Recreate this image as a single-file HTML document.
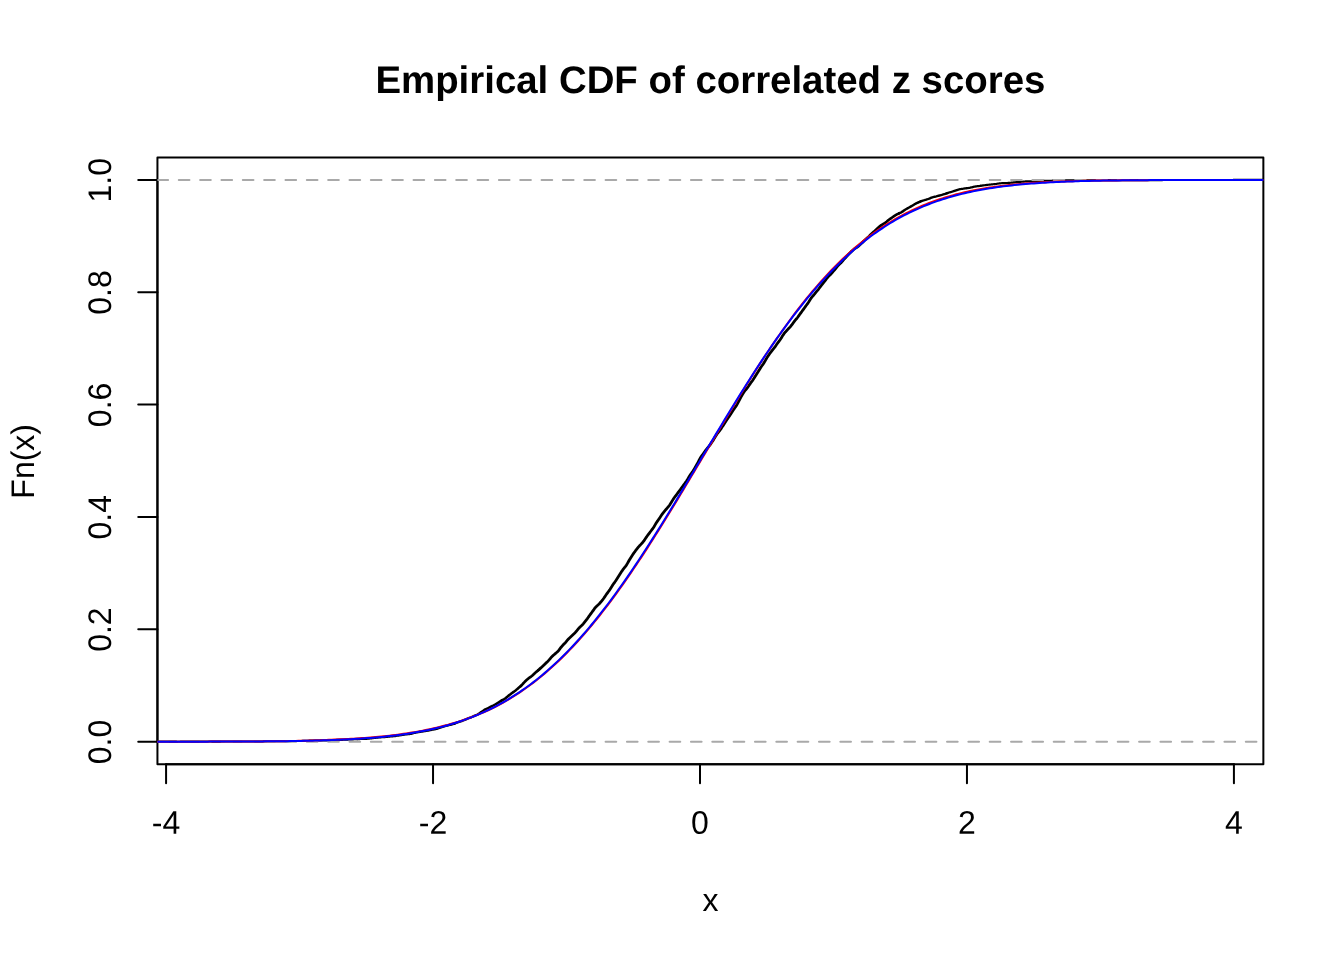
<!DOCTYPE html>
<html><head><meta charset="utf-8"><title>Empirical CDF of correlated z scores</title>
<style>
html,body{margin:0;padding:0;background:#fff;overflow:hidden;}
svg{display:block;}
text{font-family:"Liberation Sans",Arial,Helvetica,sans-serif;fill:#000;text-rendering:geometricPrecision;}
</style></head><body>
<svg width="1344" height="960" viewBox="0 0 1344 960">
<rect width="1344" height="960" fill="#fff"/>
<defs><clipPath id="c"><rect x="157.44" y="157.44" width="1105.9199999999998" height="606.72"/></clipPath></defs>
<g fill="none" stroke="#000" stroke-width="2" stroke-linecap="round" stroke-linejoin="round">
<rect x="157.44" y="157.44" width="1105.9199999999998" height="606.72"/>
<line x1="166.08" y1="764.16" x2="1233.92" y2="764.16"/>
<line x1="157.44" y1="741.69" x2="157.44" y2="179.91"/>
<line x1="166.08" y1="764.16" x2="166.08" y2="783.36"/><line x1="433.04" y1="764.16" x2="433.04" y2="783.36"/><line x1="700.00" y1="764.16" x2="700.00" y2="783.36"/><line x1="966.96" y1="764.16" x2="966.96" y2="783.36"/><line x1="1233.92" y1="764.16" x2="1233.92" y2="783.36"/>
<line x1="157.44" y1="741.69" x2="138.24" y2="741.69"/><line x1="157.44" y1="629.33" x2="138.24" y2="629.33"/><line x1="157.44" y1="516.98" x2="138.24" y2="516.98"/><line x1="157.44" y1="404.62" x2="138.24" y2="404.62"/><line x1="157.44" y1="292.27" x2="138.24" y2="292.27"/><line x1="157.44" y1="179.91" x2="138.24" y2="179.91"/>
</g>
<g clip-path="url(#c)" fill="none" stroke-linejoin="round" stroke-linecap="round">
<g stroke="#000"><path d="M157.44 741.67 L158.23 741.67 L159.02 741.67 L159.81 741.67 L160.60 741.67 L161.39 741.67 L162.18 741.67 L162.97 741.67 L163.76 741.66 L164.55 741.66 L165.34 741.66 L166.13 741.66 L166.92 741.67 L167.71 741.67 L168.50 741.67 L169.29 741.67 L170.08 741.66 L170.87 741.66 L171.66 741.66 L172.45 741.67 L173.24 741.67 L174.03 741.67 L174.82 741.67 L175.61 741.67 L176.40 741.67 L177.19 741.68 L177.98 741.68 L178.77 741.68 L179.56 741.68 L180.35 741.67 L181.14 741.67 L181.93 741.66 L182.72 741.66 L183.51 741.66 L184.30 741.66 L185.09 741.66 L185.88 741.66 L186.67 741.65 L187.46 741.65 L188.25 741.65 L189.04 741.65 L189.83 741.65 L190.62 741.65 L191.41 741.65 L192.20 741.65 L192.99 741.65 L193.78 741.66 L194.57 741.66 L195.36 741.65 L196.15 741.65 L196.94 741.64 L197.73 741.64 L198.52 741.63 L199.31 741.63 L200.10 741.63 L200.89 741.63 L201.68 741.63 L202.47 741.63 L203.26 741.62 L204.05 741.62 L204.84 741.62 L205.63 741.62 L206.42 741.62 L207.21 741.62 L208.00 741.61 L208.79 741.61 L209.58 741.61 L210.37 741.61 L211.16 741.62 L211.95 741.62 L212.74 741.62 L213.53 741.62 L214.32 741.62 L215.11 741.62 L215.90 741.62 L216.69 741.63 L217.48 741.63 L218.27 741.63 L219.06 741.63 L219.85 741.63 L220.64 741.63 L221.43 741.62 L222.22 741.62 L223.01 741.61 L223.80 741.60 L224.59 741.58 L225.38 741.57 L226.17 741.57 L226.95 741.56 L227.74 741.56 L228.53 741.56 L229.32 741.56 L230.11 741.55 L230.90 741.55 L231.69 741.55 L232.48 741.55 L233.27 741.55 L234.06 741.55 L234.85 741.54 L235.64 741.54 L236.43 741.54 L237.22 741.54 L238.01 741.53 L238.80 741.53 L239.59 741.53 L240.38 741.52 L241.17 741.51 L241.96 741.51 L242.75 741.50 L243.54 741.51 L244.33 741.51 L245.12 741.51 L245.91 741.51 L246.70 741.51 L247.49 741.50 L248.28 741.49 L249.07 741.49 L249.86 741.48 L250.65 741.47 L251.44 741.46 L252.23 741.46 L253.02 741.45 L253.81 741.46 L254.60 741.46 L255.39 741.47 L256.18 741.47 L256.97 741.47 L257.76 741.46 L258.55 741.46 L259.34 741.45 L260.13 741.45 L260.92 741.45 L261.71 741.45 L262.50 741.44 L263.29 741.42 L264.08 741.40 L264.87 741.38 L265.66 741.36 L266.45 741.34 L267.24 741.32 L268.03 741.30 L268.82 741.29 L269.61 741.28 L270.40 741.28 L271.19 741.28 L271.98 741.28 L272.77 741.28 L273.56 741.27 L274.35 741.26 L275.14 741.25 L275.93 741.24 L276.72 741.23 L277.51 741.23 L278.30 741.23 L279.09 741.23 L279.88 741.22 L280.67 741.22 L281.46 741.22 L282.25 741.22 L283.04 741.21 L283.83 741.21 L284.62 741.20 L285.41 741.19 L286.20 741.18 L286.99 741.18 L287.78 741.17 L288.57 741.17 L289.36 741.15 L290.15 741.13 L290.94 741.10 L291.73 741.07 L292.52 741.04 L293.31 741.02 L294.10 741.00 L294.89 740.99 L295.68 740.98 L296.47 740.98 L297.26 740.97 L298.05 740.97 L298.84 740.97 L299.63 740.97 L300.42 740.95 L301.21 740.93 L302.00 740.91 L302.79 740.88 L303.58 740.86 L304.37 740.84 L305.16 740.82 L305.95 740.80 L306.74 740.77 L307.53 740.73 L308.32 740.70 L309.11 740.67 L309.90 740.64 L310.69 740.62 L311.48 740.61 L312.27 740.59 L313.06 740.58 L313.85 740.57 L314.64 740.56 L315.43 740.56 L316.22 740.55 L317.01 740.53 L317.80 740.50 L318.59 740.47 L319.38 740.44 L320.17 740.42 L320.96 740.42 L321.75 740.42 L322.54 740.43 L323.33 740.42 L324.12 740.42 L324.91 740.41 L325.70 740.40 L326.49 740.38 L327.28 740.37 L328.07 740.34 L328.86 740.31 L329.65 740.27 L330.44 740.24 L331.23 740.20 L332.02 740.17 L332.81 740.13 L333.60 740.09 L334.39 740.03 L335.18 739.98 L335.97 739.93 L336.76 739.90 L337.55 739.88 L338.34 739.88 L339.13 739.88 L339.92 739.88 L340.71 739.87 L341.50 739.85 L342.29 739.84 L343.08 739.81 L343.87 739.78 L344.66 739.74 L345.45 739.70 L346.24 739.65 L347.03 739.61 L347.82 739.58 L348.61 739.56 L349.40 739.54 L350.19 739.51 L350.98 739.47 L351.77 739.43 L352.56 739.38 L353.35 739.34 L354.14 739.32 L354.93 739.29 L355.72 739.27 L356.51 739.23 L357.30 739.20" stroke-width="2.1"/><path d="M357.30 739.20 L358.09 739.15 L358.88 739.11 L359.67 739.07 L360.46 739.02 L361.25 738.97 L362.04 738.91 L362.83 738.86 L363.62 738.83 L364.41 738.81 L365.19 738.81 L365.98 738.81 L366.77 738.79 L367.56 738.74 L368.35 738.68 L369.14 738.60 L369.93 738.51 L370.72 738.43 L371.51 738.34 L372.30 738.24 L373.09 738.14 L373.88 738.03 L374.67 737.93 L375.46 737.84 L376.25 737.76 L377.04 737.67 L377.83 737.58 L378.62 737.49 L379.41 737.40 L380.20 737.33 L380.99 737.28 L381.78 737.26 L382.57 737.23 L383.36 737.19 L384.15 737.13 L384.94 737.05 L385.73 736.96 L386.52 736.88 L387.31 736.79 L388.10 736.71 L388.89 736.63 L389.68 736.55 L390.47 736.47 L391.26 736.41 L392.05 736.36 L392.84 736.31 L393.63 736.25 L394.42 736.16 L395.21 736.05 L396.00 735.91 L396.79 735.78 L397.58 735.66 L398.37 735.55 L399.16 735.45 L399.95 735.33 L400.74 735.21 L401.53 735.07 L402.32 734.94 L403.11 734.81 L403.90 734.70 L404.69 734.60 L405.48 734.49 L406.27 734.39 L407.06 734.29 L407.85 734.21 L408.64 734.13 L409.43 734.06 L410.22 733.96 L411.01 733.82 L411.80 733.64 L412.59 733.43 L413.38 733.22 L414.17 733.02 L414.96 732.84 L415.75 732.68 L416.54 732.53 L417.33 732.37 L418.12 732.21 L418.91 732.07 L419.70 731.94" stroke-width="2.2"/><path d="M419.70 731.94 L420.49 731.81 L421.28 731.69 L422.07 731.55 L422.86 731.40 L423.65 731.26 L424.44 731.13 L425.23 731.03 L426.02 730.93 L426.81 730.83 L427.60 730.69 L428.39 730.53 L429.18 730.34 L429.97 730.16 L430.76 730.00 L431.55 729.86 L432.34 729.73 L433.13 729.60 L433.92 729.46 L434.71 729.31 L435.50 729.15 L436.29 728.97 L437.08 728.77 L437.87 728.54 L438.66 728.26 L439.45 727.96 L440.24 727.64 L441.03 727.35 L441.82 727.09 L442.61 726.87 L443.40 726.66 L444.19 726.44 L444.98 726.20 L445.77 725.96 L446.56 725.74 L447.35 725.53 L448.14 725.34 L448.93 725.17 L449.72 724.98 L450.51 724.78 L451.30 724.57 L452.09 724.36 L452.88 724.14 L453.67 723.91 L454.46 723.64" stroke-width="2.3"/><path d="M454.46 723.64 L455.25 723.33 L456.04 722.98 L456.83 722.63 L457.62 722.31 L458.41 722.03 L459.20 721.79 L459.99 721.56 L460.78 721.33 L461.57 721.06 L462.36 720.76 L463.15 720.46 L463.94 720.15 L464.73 719.84 L465.52 719.52 L466.31 719.18 L467.10 718.83 L467.89 718.49 L468.68 718.18 L469.47 717.89 L470.26 717.61 L471.05 717.32 L471.84 716.98 L472.63 716.62 L473.42 716.24 L474.21 715.87 L475.00 715.53 L475.79 715.22 L476.58 714.89 L477.37 714.53 L478.16 714.11 L478.95 713.64 L479.74 713.15 L480.53 712.63" stroke-width="2.4"/><path d="M480.53 712.63 L481.32 712.10 L482.11 711.55 L482.90 710.99 L483.69 710.43 L484.48 709.91 L485.27 709.45 L486.06 709.06 L486.85 708.71 L487.64 708.36 L488.43 707.98 L489.22 707.57 L490.01 707.14 L490.80 706.71 L491.59 706.32 L492.38 705.94 L493.17 705.57 L493.96 705.17 L494.75 704.73 L495.54 704.28 L496.33 703.82 L497.12 703.36 L497.91 702.89 L498.70 702.40 L499.49 701.88 L500.28 701.35 L501.07 700.84 L501.86 700.37" stroke-width="2.5"/><path d="M501.86 700.37 L502.65 699.94 L503.43 699.52 L504.22 699.08 L505.01 698.56 L505.80 697.97 L506.59 697.33 L507.38 696.66 L508.17 696.02 L508.96 695.39 L509.75 694.78 L510.54 694.16 L511.33 693.55 L512.12 692.96 L512.91 692.39 L513.70 691.85 L514.49 691.30 L515.28 690.72 L516.07 690.08 L516.86 689.39 L517.65 688.68 L518.44 687.99 L519.23 687.32 L520.02 686.66 L520.81 685.97" stroke-width="2.6"/><path d="M520.81 685.97 L521.60 685.21 L522.39 684.38 L523.18 683.51 L523.97 682.65 L524.76 681.82 L525.55 681.05 L526.34 680.31 L527.13 679.60 L527.92 678.91 L528.71 678.27 L529.50 677.67 L530.29 677.11 L531.08 676.55 L531.87 675.94 L532.66 675.25 L533.45 674.50 L534.24 673.73 L535.03 672.98 L535.82 672.29 L536.61 671.64 L537.40 670.99 L538.19 670.32" stroke-width="2.7"/><path d="M538.19 670.32 L538.98 669.60 L539.77 668.87 L540.56 668.13 L541.35 667.41 L542.14 666.69 L542.93 665.96 L543.72 665.20 L544.51 664.42 L545.30 663.64 L546.09 662.89 L546.88 662.16 L547.67 661.41 L548.46 660.61 L549.25 659.72 L550.04 658.78 L550.83 657.83 L551.62 656.93 L552.41 656.13 L553.20 655.42 L553.99 654.76 L554.78 654.11 L555.57 653.44 L556.36 652.76 L557.15 652.06 L557.94 651.35 L558.73 650.60 L559.52 649.36 L560.31 648.18 L561.10 647.24 L561.89 646.31 L562.68 645.42 L563.47 644.59 L564.26 643.78 L565.05 642.95 L565.84 642.06 L566.63 641.12 L567.42 640.18 L568.21 639.28 L569.00 638.47 L569.79 637.73 L570.58 637.02 L571.37 636.30 L572.16 635.56 L572.95 634.80 L573.74 634.03 L574.53 633.25 L575.32 632.43 L576.11 631.55 L576.90 630.60 L577.69 629.62 L578.48 628.67 L579.27 627.80 L580.06 627.01 L580.85 626.28 L581.64 625.53 L582.43 624.71 L583.22 623.80 L584.01 622.83 L584.80 621.83 L585.59 620.84 L586.38 619.84 L587.17 618.81 L587.96 617.73 L588.75 616.62 L589.54 615.50 L590.33 614.40 L591.12 613.34 L591.91 612.28 L592.70 611.19 L593.49 610.08 L594.28 608.97 L595.07 607.93 L595.86 607.02 L596.65 606.23 L597.44 605.52 L598.23 604.82 L599.02 604.06 L599.81 603.21 L600.60 602.28 L601.39 601.31 L602.18 600.32 L602.97 599.30 L603.76 598.23 L604.55 597.09 L605.34 595.93 L606.13 594.77 L606.92 593.67 L607.71 592.60 L608.50 591.53 L609.29 590.41 L610.08 589.20 L610.87 587.92 L611.66 586.64 L612.45 585.41 L613.24 584.27 L614.03 583.17 L614.82 582.08 L615.61 580.93 L616.40 579.73 L617.19 578.48 L617.98 577.22 L618.77 575.98 L619.56 574.75 L620.35 573.53 L621.14 572.30 L621.93 571.10 L622.72 569.97 L623.51 568.93 L624.30 567.95 L625.09 566.97 L625.88 565.89 L626.67 564.69 L627.46 563.35 L628.25 561.95 L629.04 560.57 L629.83 559.25 L630.62 557.99 L631.41 556.76 L632.20 555.54 L632.99 554.32 L633.78 553.15 L634.57 552.04 L635.36 550.99 L636.15 549.99 L636.94 548.99 L637.73 547.98 L638.52 546.97 L639.31 546.03 L640.10 545.17 L640.89 544.38 L641.67 543.60 L642.46 542.73 L643.25 541.73 L644.04 540.61 L644.83 539.42 L645.62 538.23 L646.41 537.10 L647.20 536.02 L647.99 534.96 L648.78 533.90 L649.57 532.84 L650.36 531.78 L651.15 530.75 L651.94 529.72 L652.73 528.65 L653.52 527.48 L654.31 526.20 L655.10 524.86 L655.89 523.53 L656.68 522.27 L657.47 521.10 L658.26 519.99 L659.05 518.87 L659.84 517.70 L660.63 516.48 L661.42 515.26 L662.21 514.11 L663.00 513.05 L663.79 512.06 L664.58 511.11 L665.37 510.18 L666.16 509.25 L666.95 508.33 L667.74 507.42 L668.53 506.50 L669.32 505.50 L670.11 504.37 L670.90 503.10 L671.69 501.74 L672.48 500.39 L673.27 499.13 L674.06 497.98 L674.85 496.93 L675.64 495.91 L676.43 494.86 L677.22 493.77 L678.01 492.67 L678.80 491.60 L679.59 490.56 L680.38 489.52 L681.17 488.46 L681.96 487.36 L682.75 486.23 L683.54 485.11 L684.33 484.04 L685.12 482.99 L685.91 481.91 L686.70 480.73 L687.49 479.44 L688.28 478.08 L689.07 476.73 L689.86 475.46 L690.65 474.30 L691.44 473.21 L692.23 472.11 L693.02 470.96 L693.81 469.72 L694.60 468.42 L695.39 467.08 L696.18 465.70 L696.97 464.28 L697.76 462.80 L698.55 461.27 L699.34 459.76 L700.13 458.34 L700.92 457.06 L701.71 455.92 L702.50 454.85 L703.29 453.77 L704.08 452.66 L704.87 451.50 L705.66 450.37 L706.45 449.30 L707.24 448.32 L708.03 447.38 L708.82 446.43 L709.61 445.42 L710.40 444.34 L711.19 443.21 L711.98 442.05 L712.77 440.87 L713.56 439.64 L714.35 438.34 L715.14 436.99 L715.93 435.66 L716.72 434.41 L717.51 433.29 L718.30 432.30 L719.09 431.36 L719.88 430.37 L720.67 429.29 L721.46 428.11 L722.25 426.87 L723.04 425.63 L723.83 424.42 L724.62 423.23 L725.41 422.02 L726.20 420.80 L726.99 419.56 L727.78 418.36 L728.57 417.21 L729.36 416.10 L730.15 414.98 L730.94 413.80 L731.73 412.56 L732.52 411.28 L733.31 410.03 L734.10 408.85 L734.89 407.74 L735.68 406.63 L736.47 405.43 L737.26 404.11 L738.05 402.66 L738.84 401.14 L739.63 399.60 L740.42 398.11 L741.21 396.66 L742.00 395.25 L742.79 393.90 L743.58 392.63 L744.37 391.48 L745.16 390.45 L745.95 389.50 L746.74 388.56 L747.53 387.55 L748.32 386.45 L749.11 385.28 L749.90 384.11 L750.69 382.98 L751.48 381.91 L752.27 380.86 L753.06 379.76 L753.85 378.57 L754.64 377.31 L755.43 376.01 L756.22 374.72 L757.01 373.45 L757.80 372.19 L758.59 370.93 L759.38 369.65 L760.17 368.39 L760.96 367.19 L761.75 366.06 L762.54 364.96 L763.33 363.84 L764.12 362.62 L764.91 361.28 L765.70 359.87 L766.49 358.47 L767.28 357.15 L768.07 355.94 L768.86 354.82 L769.65 353.75 L770.44 352.69 L771.23 351.65 L772.02 350.63 L772.81 349.64 L773.60 348.67 L774.39 347.68 L775.18 346.62 L775.97 345.49 L776.76 344.33 L777.55 343.19 L778.34 342.11 L779.13 341.06 L779.91 340.00 L780.70 338.86 L781.49 337.64 L782.28 336.36 L783.07 335.11 L783.86 333.94 L784.65 332.90 L785.44 331.95 L786.23 331.06 L787.02 330.20 L787.81 329.35 L788.60 328.52 L789.39 327.71 L790.18 326.88 L790.97 325.98 L791.76 324.99 L792.55 323.90 L793.34 322.77 L794.13 321.67 L794.92 320.64 L795.71 319.68 L796.50 318.75 L797.29 317.77 L798.08 316.72 L798.87 315.60 L799.66 314.47 L800.45 313.37 L801.24 312.30 L802.03 311.24 L802.82 310.17 L803.61 309.07 L804.40 307.96 L805.19 306.86 L805.98 305.78 L806.77 304.71 L807.56 303.62 L808.35 302.46 L809.14 301.22 L809.93 299.96 L810.72 298.76 L811.51 297.67 L812.30 296.69 L813.09 295.79 L813.88 294.88 L814.67 293.95 L815.46 292.96 L816.25 291.97 L817.04 290.98 L817.83 290.01 L818.62 289.02 L819.41 287.98 L820.20 286.90 L820.99 285.82 L821.78 284.77 L822.57 283.77 L823.36 282.81 L824.15 281.85 L824.94 280.85 L825.73 279.80 L826.52 278.75 L827.31 277.76 L828.10 276.85 L828.89 276.04 L829.68 275.27 L830.47 274.49 L831.26 273.66 L832.05 272.78 L832.84 271.86 L833.63 270.94 L834.42 270.00 L835.21 269.05 L836.00 268.08 L836.79 267.09 L837.58 266.14 L838.37 265.25 L839.16 264.45 L839.95 263.72 L840.74 262.98 L841.53 262.18 L842.32 261.31 L843.11 260.39 L843.90 259.45 L844.69 258.55 L845.48 257.69 L846.27 256.85 L847.06 256.00 L847.85 255.14 L848.64 254.28 L849.43 253.44 L850.22 252.64 L851.01 251.88 L851.80 251.15 L852.59 250.42 L853.38 249.70 L854.17 249.03 L854.96 248.44 L855.75 247.93 L856.54 247.47 L857.33 247.00 L858.12 246.46 L858.91 245.82 L859.70 245.09 L860.49 244.32 L861.28 243.55 L862.07 242.79 L862.86 242.04" stroke-width="2.8"/><path d="M862.86 242.04 L863.65 241.28 L864.44 240.51 L865.23 239.75 L866.02 239.01 L866.81 238.30 L867.60 237.60 L868.39 236.87 L869.18 236.10 L869.97 235.29 L870.76 234.47 L871.55 233.69 L872.34 232.97 L873.13 232.30 L873.92 231.63 L874.71 230.94 L875.50 230.20 L876.29 229.43 L877.08 228.65 L877.87 227.90 L878.66 227.21 L879.45 226.56 L880.24 225.94" stroke-width="2.7"/><path d="M880.24 225.94 L881.03 225.35 L881.82 224.80 L882.61 224.31 L883.40 223.85 L884.19 223.39 L884.98 222.89 L885.77 222.32 L886.56 221.69 L887.35 221.01 L888.14 220.35 L888.93 219.74 L889.72 219.17 L890.51 218.64 L891.30 218.09 L892.09 217.52 L892.88 216.95 L893.67 216.39 L894.46 215.87 L895.25 215.39 L896.04 214.94 L896.83 214.49 L897.62 214.05 L898.41 213.63 L899.20 213.26" stroke-width="2.6"/><path d="M899.20 213.26 L899.99 212.90 L900.78 212.54 L901.57 212.14 L902.36 211.67 L903.15 211.13 L903.94 210.56 L904.73 210.00 L905.52 209.48 L906.31 209.02 L907.10 208.59 L907.89 208.16 L908.68 207.73 L909.47 207.28 L910.26 206.84 L911.05 206.39 L911.84 205.95 L912.63 205.49 L913.42 205.00 L914.21 204.50 L915.00 204.01 L915.79 203.57 L916.58 203.18 L917.37 202.83 L918.15 202.50 L918.94 202.16 L919.73 201.80 L920.52 201.43" stroke-width="2.5"/><path d="M920.52 201.43 L921.31 201.10 L922.10 200.82 L922.89 200.58 L923.68 200.38 L924.47 200.18 L925.26 199.96 L926.05 199.73 L926.84 199.48 L927.63 199.23 L928.42 198.96 L929.21 198.66 L930.00 198.32 L930.79 197.97 L931.58 197.62 L932.37 197.32 L933.16 197.09 L933.95 196.90 L934.74 196.73 L935.53 196.55 L936.32 196.36 L937.11 196.14 L937.90 195.93 L938.69 195.72 L939.48 195.54 L940.27 195.35 L941.06 195.14 L941.85 194.92 L942.64 194.68 L943.43 194.45 L944.22 194.22 L945.01 193.98 L945.80 193.71 L946.59 193.42" stroke-width="2.4"/><path d="M946.59 193.42 L947.38 193.10 L948.17 192.80 L948.96 192.52 L949.75 192.29 L950.54 192.09 L951.33 191.90 L952.12 191.69 L952.91 191.44 L953.70 191.17 L954.49 190.89 L955.28 190.61 L956.07 190.34 L956.86 190.07 L957.65 189.81 L958.44 189.57 L959.23 189.35 L960.02 189.18 L960.81 189.04 L961.60 188.94 L962.39 188.84 L963.18 188.73 L963.97 188.60 L964.76 188.46 L965.55 188.34 L966.34 188.24 L967.13 188.16 L967.92 188.07 L968.71 187.96 L969.50 187.81 L970.29 187.64 L971.08 187.45 L971.87 187.27 L972.66 187.09 L973.45 186.91 L974.24 186.73 L975.03 186.56 L975.82 186.41 L976.61 186.30 L977.40 186.22 L978.19 186.15 L978.98 186.08 L979.77 185.98 L980.56 185.85" stroke-width="2.3"/><path d="M980.56 185.85 L981.35 185.70 L982.14 185.56 L982.93 185.44 L983.72 185.33 L984.51 185.24 L985.30 185.14 L986.09 185.04 L986.88 184.94 L987.67 184.85 L988.46 184.77 L989.25 184.69 L990.04 184.61 L990.83 184.51 L991.62 184.41 L992.41 184.30 L993.20 184.22 L993.99 184.15 L994.78 184.09 L995.57 184.01 L996.36 183.91 L997.15 183.78 L997.94 183.64 L998.73 183.50 L999.52 183.39 L1000.31 183.30 L1001.10 183.24 L1001.89 183.18 L1002.68 183.14 L1003.47 183.11 L1004.26 183.10 L1005.05 183.09 L1005.84 183.08 L1006.63 183.06 L1007.42 183.01 L1008.21 182.94 L1009.00 182.87 L1009.79 182.80 L1010.58 182.74 L1011.37 182.69 L1012.16 182.63 L1012.95 182.56 L1013.74 182.46 L1014.53 182.36 L1015.32 182.25 L1016.11 182.16 L1016.90 182.09 L1017.69 182.02 L1018.48 181.95 L1019.27 181.89 L1020.06 181.83 L1020.85 181.78 L1021.64 181.73 L1022.43 181.69 L1023.22 181.63 L1024.01 181.56 L1024.80 181.47 L1025.59 181.39 L1026.38 181.33 L1027.17 181.29 L1027.96 181.27 L1028.75 181.27 L1029.54 181.27 L1030.33 181.26 L1031.12 181.24 L1031.91 181.23 L1032.70 181.22 L1033.49 181.21 L1034.28 181.19 L1035.07 181.16 L1035.86 181.12 L1036.65 181.09 L1037.44 181.05 L1038.23 181.03 L1039.02 181.00 L1039.81 180.97 L1040.60 180.92 L1041.39 180.86 L1042.18 180.81 L1042.97 180.78 L1043.76 180.76" stroke-width="2.2"/><path d="M1043.76 180.76 L1044.55 180.77 L1045.34 180.78 L1046.13 180.79 L1046.92 180.80 L1047.71 180.80 L1048.50 180.79 L1049.29 180.78 L1050.08 180.77 L1050.87 180.74 L1051.66 180.70 L1052.45 180.66 L1053.24 180.62 L1054.03 180.59 L1054.82 180.58 L1055.61 180.56 L1056.39 180.55 L1057.18 180.52 L1057.97 180.49 L1058.76 180.45 L1059.55 180.42 L1060.34 180.39 L1061.13 180.38 L1061.92 180.37 L1062.71 180.35 L1063.50 180.33 L1064.29 180.31 L1065.08 180.29 L1065.87 180.27 L1066.66 180.26 L1067.45 180.25 L1068.24 180.23 L1069.03 180.22 L1069.82 180.21 L1070.61 180.22 L1071.40 180.25 L1072.19 180.29 L1072.98 180.32 L1073.77 180.34 L1074.56 180.35 L1075.35 180.35 L1076.14 180.35 L1076.93 180.34 L1077.72 180.33 L1078.51 180.32 L1079.30 180.31 L1080.09 180.29 L1080.88 180.27 L1081.67 180.26 L1082.46 180.25 L1083.25 180.24 L1084.04 180.23 L1084.83 180.22 L1085.62 180.20 L1086.41 180.19 L1087.20 180.19 L1087.99 180.20 L1088.78 180.21 L1089.57 180.23 L1090.36 180.23 L1091.15 180.23 L1091.94 180.22 L1092.73 180.20 L1093.52 180.19 L1094.31 180.19 L1095.10 180.18 L1095.89 180.17 L1096.68 180.17 L1097.47 180.17 L1098.26 180.18 L1099.05 180.19 L1099.84 180.20 L1100.63 180.21 L1101.42 180.21 L1102.21 180.20 L1103.00 180.18 L1103.79 180.18 L1104.58 180.17 L1105.37 180.17 L1106.16 180.17 L1106.95 180.17 L1107.74 180.17 L1108.53 180.17 L1109.32 180.17 L1110.11 180.17 L1110.90 180.18 L1111.69 180.18 L1112.48 180.19 L1113.27 180.21 L1114.06 180.22 L1114.85 180.24 L1115.64 180.26 L1116.43 180.28 L1117.22 180.29 L1118.01 180.29 L1118.80 180.28 L1119.59 180.27 L1120.38 180.26 L1121.17 180.25 L1121.96 180.24 L1122.75 180.24 L1123.54 180.23 L1124.33 180.22 L1125.12 180.22 L1125.91 180.22 L1126.70 180.21 L1127.49 180.21 L1128.28 180.21 L1129.07 180.20 L1129.86 180.20 L1130.65 180.19 L1131.44 180.19 L1132.23 180.19 L1133.02 180.20 L1133.81 180.20 L1134.60 180.19 L1135.39 180.18 L1136.18 180.18 L1136.97 180.17 L1137.76 180.17 L1138.55 180.17 L1139.34 180.17 L1140.13 180.18 L1140.92 180.18 L1141.71 180.18 L1142.50 180.18 L1143.29 180.18 L1144.08 180.18 L1144.87 180.17 L1145.66 180.16 L1146.45 180.14 L1147.24 180.13 L1148.03 180.12 L1148.82 180.11 L1149.61 180.11 L1150.40 180.11 L1151.19 180.11 L1151.98 180.11 L1152.77 180.10 L1153.56 180.10 L1154.35 180.10 L1155.14 180.10 L1155.93 180.11 L1156.72 180.11 L1157.51 180.11 L1158.30 180.11 L1159.09 180.11 L1159.88 180.10 L1160.67 180.10 L1161.46 180.09 L1162.25 180.08 L1163.04 180.06 L1163.83 180.05 L1164.62 180.04 L1165.41 180.04 L1166.20 180.03 L1166.99 180.03 L1167.78 180.03 L1168.57 180.03 L1169.36 180.02 L1170.15 180.02 L1170.94 180.01 L1171.73 180.01 L1172.52 180.00 L1173.31 180.00 L1174.10 179.99 L1174.89 179.99 L1175.68 179.99 L1176.47 179.99 L1177.26 179.99 L1178.05 180.00 L1178.84 180.00 L1179.63 180.00 L1180.42 180.00 L1181.21 180.00 L1182.00 180.00 L1182.79 180.01 L1183.58 180.01 L1184.37 180.01 L1185.16 180.01 L1185.95 180.01 L1186.74 180.01 L1187.53 180.00 L1188.32 180.00 L1189.11 179.99 L1189.90 179.98 L1190.69 179.97 L1191.48 179.97 L1192.27 179.97 L1193.06 179.97 L1193.85 179.97 L1194.63 179.97 L1195.42 179.97 L1196.21 179.97 L1197.00 179.97 L1197.79 179.97 L1198.58 179.96 L1199.37 179.96 L1200.16 179.96 L1200.95 179.96 L1201.74 179.96 L1202.53 179.96 L1203.32 179.96 L1204.11 179.95 L1204.90 179.95 L1205.69 179.95 L1206.48 179.94 L1207.27 179.94 L1208.06 179.94 L1208.85 179.94 L1209.64 179.94 L1210.43 179.94 L1211.22 179.94 L1212.01 179.94 L1212.80 179.94 L1213.59 179.94 L1214.38 179.93 L1215.17 179.93 L1215.96 179.93 L1216.75 179.93 L1217.54 179.93 L1218.33 179.93 L1219.12 179.93 L1219.91 179.94 L1220.70 179.94 L1221.49 179.94 L1222.28 179.94 L1223.07 179.95 L1223.86 179.95 L1224.65 179.95 L1225.44 179.95 L1226.23 179.95 L1227.02 179.95 L1227.81 179.95 L1228.60 179.94 L1229.39 179.94 L1230.18 179.94 L1230.97 179.93 L1231.76 179.93 L1232.55 179.93 L1233.34 179.92 L1234.13 179.92 L1234.92 179.92 L1235.71 179.92 L1236.50 179.92 L1237.29 179.92 L1238.08 179.92 L1238.87 179.92 L1239.66 179.92 L1240.45 179.92 L1241.24 179.92 L1242.03 179.92 L1242.82 179.92 L1243.61 179.92 L1244.40 179.92 L1245.19 179.92 L1245.98 179.92 L1246.77 179.92 L1247.56 179.92 L1248.35 179.92 L1249.14 179.92 L1249.93 179.92 L1250.72 179.92 L1251.51 179.92 L1252.30 179.92 L1253.09 179.92 L1253.88 179.92 L1254.67 179.92 L1255.46 179.92 L1256.25 179.92 L1257.04 179.92 L1257.83 179.92 L1258.62 179.91 L1259.41 179.91 L1260.20 179.92 L1260.99 179.92 L1261.78 179.92 L1262.57 179.92 L1263.36 179.92" stroke-width="2.1"/></g>
<g stroke="#a9a9a9" stroke-width="2" stroke-dasharray="10.67 10.67">
<line x1="157.44" y1="741.69" x2="1263.36" y2="741.69"/>
<line x1="157.44" y1="179.91" x2="1263.36" y2="179.91"/>
</g>
<path d="M157.44 741.68 L160.20 741.68 L162.97 741.67 L165.73 741.67 L168.50 741.67 L171.26 741.67 L174.03 741.67 L176.79 741.67 L179.56 741.66 L182.32 741.66 L185.09 741.66 L187.85 741.65 L190.62 741.65 L193.38 741.65 L196.15 741.65 L198.91 741.64 L201.68 741.64 L204.44 741.63 L207.21 741.63 L209.97 741.62 L212.74 741.62 L215.50 741.61 L218.27 741.60 L221.03 741.60 L223.80 741.59 L226.56 741.58 L229.32 741.57 L232.09 741.56 L234.85 741.55 L237.62 741.54 L240.38 741.53 L243.15 741.52 L245.91 741.50 L248.68 741.49 L251.44 741.47 L254.21 741.45 L256.97 741.44 L259.74 741.42 L262.50 741.40 L265.27 741.37 L268.03 741.35 L270.80 741.32 L273.56 741.30 L276.33 741.27 L279.09 741.23 L281.86 741.19 L284.62 741.14 L287.39 741.10 L290.15 741.04 L292.91 740.98 L295.68 740.92 L298.44 740.86 L301.21 740.79 L303.97 740.71 L306.74 740.63 L309.50 740.55 L312.26 740.46 L315.03 740.37 L317.79 740.28 L320.56 740.18 L323.32 740.07 L326.08 739.96 L328.85 739.85 L331.61 739.74 L334.37 739.61 L337.14 739.49 L339.90 739.36 L342.66 739.22 L345.43 739.08 L348.19 738.93 L350.95 738.78 L353.72 738.63 L356.48 738.46 L359.24 738.29 L362.01 738.10 L364.77 737.91 L367.53 737.70 L370.30 737.49 L373.06 737.26 L375.82 737.02 L378.59 736.77 L381.35 736.51 L384.11 736.23 L386.87 735.94 L389.64 735.63 L392.40 735.31 L395.16 734.97 L397.92 734.62 L400.68 734.25 L403.45 733.86 L406.21 733.46 L408.97 733.03 L411.73 732.59 L414.49 732.13 L417.25 731.65 L420.01 731.14 L422.78 730.61 L425.54 730.06 L428.30 729.49 L431.06 728.89 L433.82 728.27 L436.58 727.63 L439.35 726.97 L442.11 726.29 L444.88 725.58 L447.65 724.85 L450.42 724.08 L453.19 723.29 L455.96 722.46 L458.73 721.59 L461.50 720.69 L464.27 719.74 L467.03 718.75 L469.80 717.73 L472.57 716.70 L475.36 715.64 L478.14 714.55 L480.93 713.42 L483.72 712.24 L486.51 711.02 L489.29 709.74 L492.07 708.40 L494.84 707.00 L497.61 705.56 L500.37 704.07 L503.14 702.53 L505.92 700.95 L508.69 699.32 L511.46 697.65 L514.23 695.92 L517.01 694.14 L519.78 692.31 L522.56 690.43 L525.33 688.50 L528.11 686.51 L530.89 684.47 L533.66 682.38 L536.44 680.23 L539.22 678.02 L541.99 675.76 L544.77 673.44 L547.54 671.06 L550.32 668.62 L553.09 666.13 L555.87 663.57 L558.64 660.96 L561.41 658.29 L564.18 655.55 L566.95 652.76 L569.72 649.91 L572.49 647.00 L575.26 644.04 L578.03 641.02 L580.80 637.93 L583.56 634.79 L586.33 631.60 L589.10 628.35 L591.87 625.04 L594.64 621.67 L597.41 618.25 L600.18 614.78 L602.95 611.25 L605.72 607.66 L608.49 604.03 L611.27 600.34 L614.04 596.60 L616.81 592.81 L619.58 588.97 L622.35 585.08 L625.12 581.14 L627.89 577.16 L630.66 573.13 L633.42 569.06 L636.19 564.95 L638.96 560.79 L641.73 556.60 L644.50 552.37 L647.27 548.10 L650.03 543.79 L652.80 539.45 L655.57 535.08 L658.33 530.67 L661.10 526.24 L663.87 521.78 L666.63 517.30 L669.40 512.79 L672.16 508.26 L674.92 503.71 L677.69 499.14 L680.45 494.55 L683.21 489.96 L685.97 485.34 L688.74 480.72 L691.50 476.09 L694.26 471.46 L697.02 466.82 L699.79 462.17 L702.55 457.53 L705.31 452.89 L708.07 448.25 L710.84 443.62 L713.60 438.99 L716.36 434.38 L719.12 429.77 L721.89 425.18 L724.65 420.61 L727.42 416.05 L730.18 411.51 L732.93 406.99 L735.67 402.48 L738.41 398.00 L741.15 393.54 L743.88 389.10 L746.61 384.69 L749.34 380.32 L752.07 375.97 L754.80 371.66 L757.53 367.39 L760.26 363.16 L762.99 358.97 L765.73 354.82 L768.48 350.71 L771.23 346.65 L773.99 342.65 L776.75 338.69 L779.50 334.76 L782.23 330.87 L784.95 327.03 L787.67 323.23 L790.38 319.48 L793.10 315.77 L795.82 312.13 L798.54 308.54 L801.27 305.01 L804.02 301.54 L806.78 298.14 L809.55 294.80 L812.31 291.51 L815.07 288.28 L817.83 285.11 L820.59 281.99 L823.34 278.92 L826.09 275.91 L828.85 272.96 L831.60 270.06 L834.35 267.23 L837.11 264.45 L839.86 261.72 L842.61 259.06 L845.37 256.45 L848.12 253.90 L850.88 251.41 L853.64 248.98 L856.39 246.60 L859.16 244.28 L861.92 242.02 L864.69 239.82 L867.45 237.68 L870.22 235.59 L873.00 233.56 L875.77 231.59 L878.54 229.66 L881.32 227.79 L884.09 225.97 L886.86 224.20 L889.63 222.48 L892.40 220.81 L895.18 219.19 L897.95 217.61 L900.72 216.09 L903.49 214.61 L906.26 213.17 L909.04 211.78 L911.81 210.44 L914.58 209.14 L917.36 207.88 L920.13 206.67 L922.91 205.49 L925.68 204.36 L928.46 203.27 L931.24 202.22 L934.01 201.20 L936.79 200.23 L939.57 199.29 L942.34 198.38 L945.12 197.51 L947.89 196.67 L950.67 195.87 L953.45 195.09 L956.22 194.34 L959.00 193.63 L961.77 192.94 L964.54 192.27 L967.32 191.64 L970.09 191.03 L972.87 190.45 L975.64 189.90 L978.42 189.38 L981.19 188.89 L983.97 188.42 L986.74 187.98 L989.52 187.55 L992.29 187.15 L995.07 186.77 L997.84 186.41 L1000.62 186.06 L1003.39 185.73 L1006.16 185.41 L1008.93 185.11 L1011.70 184.82 L1014.47 184.53 L1017.24 184.26 L1020.01 184.00 L1022.77 183.74 L1025.54 183.50 L1028.31 183.28 L1031.08 183.07 L1033.84 182.87 L1036.61 182.69 L1039.38 182.52 L1042.15 182.36 L1044.91 182.21 L1047.68 182.07 L1050.45 181.94 L1053.22 181.82 L1055.98 181.70 L1058.75 181.60 L1061.52 181.49 L1064.28 181.40 L1067.05 181.31 L1069.81 181.22 L1072.58 181.14 L1075.35 181.06 L1078.11 180.99 L1080.88 180.92 L1083.64 180.85 L1086.41 180.78 L1089.17 180.71 L1091.94 180.65 L1094.70 180.60 L1097.47 180.56 L1100.23 180.52 L1103.00 180.49 L1105.76 180.46 L1108.53 180.44 L1111.29 180.42 L1114.06 180.40 L1116.83 180.38 L1119.59 180.36 L1122.36 180.34 L1125.12 180.32 L1127.88 180.29 L1130.65 180.26 L1133.41 180.24 L1136.18 180.21 L1138.94 180.19 L1141.71 180.17 L1144.47 180.15 L1147.24 180.14 L1150.00 180.12 L1152.77 180.10 L1155.53 180.09 L1158.30 180.08 L1161.06 180.07 L1163.83 180.05 L1166.59 180.04 L1169.36 180.03 L1172.12 180.02 L1174.89 180.02 L1177.65 180.01 L1180.42 180.00 L1183.18 179.99 L1185.95 179.99 L1188.71 179.98 L1191.48 179.97 L1194.24 179.97 L1197.00 179.97 L1199.77 179.96 L1202.53 179.96 L1205.30 179.95 L1208.06 179.95 L1210.83 179.95 L1213.59 179.94 L1216.36 179.94 L1219.12 179.94 L1221.89 179.94 L1224.65 179.93 L1227.42 179.93 L1230.18 179.93 L1232.95 179.93 L1235.71 179.93 L1238.48 179.93 L1241.24 179.92 L1244.01 179.92 L1246.77 179.92 L1249.54 179.92 L1252.30 179.92 L1255.07 179.92 L1257.83 179.92 L1260.60 179.92 L1263.36 179.92" stroke="#ff0000" stroke-width="2"/>
<path d="M157.44 741.68 L160.20 741.68 L162.97 741.67 L165.73 741.67 L168.50 741.67 L171.26 741.67 L174.03 741.67 L176.79 741.67 L179.56 741.66 L182.32 741.66 L185.09 741.66 L187.85 741.65 L190.62 741.65 L193.38 741.65 L196.15 741.65 L198.91 741.64 L201.68 741.64 L204.44 741.63 L207.21 741.63 L209.97 741.62 L212.74 741.62 L215.50 741.61 L218.27 741.60 L221.03 741.60 L223.80 741.59 L226.56 741.58 L229.32 741.57 L232.09 741.56 L234.85 741.55 L237.62 741.54 L240.38 741.53 L243.15 741.52 L245.91 741.50 L248.68 741.49 L251.44 741.47 L254.21 741.45 L256.97 741.44 L259.74 741.42 L262.50 741.40 L265.27 741.37 L268.03 741.35 L270.80 741.32 L273.56 741.30 L276.33 741.27 L279.09 741.24 L281.86 741.20 L284.62 741.17 L287.39 741.13 L290.15 741.09 L292.92 741.05 L295.68 741.00 L298.44 740.95 L301.21 740.90 L303.97 740.85 L306.74 740.79 L309.50 740.72 L312.27 740.66 L315.03 740.59 L317.80 740.51 L320.56 740.43 L323.33 740.35 L326.09 740.26 L328.86 740.17 L331.62 740.07 L334.39 739.96 L337.15 739.85 L339.92 739.73 L342.68 739.60 L345.45 739.47 L348.21 739.33 L350.98 739.18 L353.74 739.03 L356.51 738.86 L359.27 738.69 L362.04 738.50 L364.80 738.31 L367.56 738.11 L370.33 737.89 L373.09 737.67 L375.86 737.43 L378.62 737.18 L381.39 736.92 L384.15 736.64 L386.92 736.35 L389.68 736.05 L392.45 735.73 L395.21 735.40 L397.98 735.05 L400.74 734.68 L403.51 734.29 L406.27 733.89 L409.04 733.47 L411.80 733.03 L414.57 732.57 L417.33 732.08 L420.10 731.58 L422.86 731.05 L425.63 730.50 L428.39 729.93 L431.16 729.33 L433.92 728.71 L436.68 728.06 L439.45 727.38 L442.21 726.68 L444.98 725.94 L447.74 725.18 L450.51 724.39 L453.27 723.56 L456.04 722.70 L458.80 721.81 L461.57 720.89 L464.33 719.93 L467.10 718.93 L469.86 717.90 L472.63 716.83 L475.39 715.73 L478.16 714.58 L480.92 713.39 L483.69 712.17 L486.45 710.90 L489.22 709.58 L491.98 708.23 L494.75 706.83 L497.51 705.38 L500.28 703.89 L503.04 702.35 L505.80 700.76 L508.57 699.13 L511.33 697.44 L514.10 695.71 L516.86 693.92 L519.63 692.08 L522.39 690.20 L525.16 688.25 L527.92 686.26 L530.69 684.21 L533.45 682.10 L536.22 679.95 L538.98 677.73 L541.75 675.46 L544.51 673.13 L547.28 670.75 L550.04 668.31 L552.81 665.81 L555.57 663.25 L558.34 660.64 L561.10 657.97 L563.87 655.24 L566.63 652.45 L569.40 649.60 L572.16 646.70 L574.92 643.73 L577.69 640.71 L580.45 637.63 L583.22 634.49 L585.98 631.30 L588.75 628.05 L591.51 624.74 L594.28 621.37 L597.04 617.95 L599.81 614.48 L602.57 610.95 L605.34 607.37 L608.10 603.73 L610.87 600.04 L613.63 596.30 L616.40 592.51 L619.16 588.67 L621.93 584.78 L624.69 580.85 L627.46 576.86 L630.22 572.84 L632.99 568.77 L635.75 564.65 L638.52 560.50 L641.28 556.30 L644.04 552.07 L646.81 547.80 L649.57 543.49 L652.34 539.16 L655.10 534.78 L657.87 530.38 L660.63 525.95 L663.40 521.49 L666.16 517.01 L668.93 512.50 L671.69 507.97 L674.46 503.43 L677.22 498.86 L679.99 494.28 L682.75 489.68 L685.52 485.07 L688.28 480.45 L691.05 475.82 L693.81 471.19 L696.58 466.55 L699.34 461.91 L702.11 457.26 L704.87 452.62 L707.64 447.99 L710.40 443.36 L713.16 438.73 L715.93 434.12 L718.69 429.51 L721.46 424.92 L724.22 420.35 L726.99 415.79 L729.75 411.25 L732.52 406.74 L735.28 402.24 L738.05 397.77 L740.81 393.33 L743.58 388.91 L746.34 384.52 L749.11 380.17 L751.87 375.85 L754.64 371.56 L757.40 367.31 L760.17 363.10 L762.93 358.92 L765.70 354.79 L768.46 350.70 L771.23 346.65 L773.99 342.65 L776.76 338.69 L779.52 334.78 L782.28 330.91 L785.05 327.10 L787.81 323.34 L790.58 319.62 L793.34 315.96 L796.11 312.35 L798.87 308.80 L801.64 305.30 L804.40 301.85 L807.17 298.46 L809.93 295.12 L812.70 291.84 L815.46 288.62 L818.23 285.46 L820.99 282.35 L823.76 279.30 L826.52 276.31 L829.29 273.38 L832.05 270.50 L834.82 267.69 L837.58 264.93 L840.35 262.23 L843.11 259.59 L845.88 257.00 L848.64 254.48 L851.40 252.01 L854.17 249.60 L856.93 247.24 L859.70 244.94 L862.46 242.70 L865.23 240.52 L867.99 238.39 L870.76 236.31 L873.52 234.29 L876.29 232.32 L879.05 230.41 L881.82 228.55 L884.58 226.74 L887.35 224.98 L890.11 223.27 L892.88 221.61 L895.64 220.00 L898.41 218.44 L901.17 216.93 L903.94 215.46 L906.70 214.04 L909.47 212.66 L912.23 211.32 L915.00 210.03 L917.76 208.79 L920.52 207.58 L923.29 206.41 L926.05 205.29 L928.82 204.20 L931.58 203.15 L934.35 202.14 L937.11 201.16 L939.88 200.22 L942.64 199.32 L945.41 198.44 L948.17 197.60 L950.94 196.80 L953.70 196.02 L956.47 195.27 L959.23 194.55 L962.00 193.86 L964.76 193.20 L967.53 192.56 L970.29 191.95 L973.06 191.37 L975.82 190.81 L978.59 190.27 L981.35 189.75 L984.12 189.26 L986.88 188.79 L989.64 188.34 L992.41 187.91 L995.17 187.50 L997.94 187.10 L1000.70 186.73 L1003.47 186.37 L1006.23 186.03 L1009.00 185.70 L1011.76 185.39 L1014.53 185.09 L1017.29 184.81 L1020.06 184.54 L1022.82 184.29 L1025.59 184.04 L1028.35 183.81 L1031.12 183.59 L1033.88 183.39 L1036.65 183.19 L1039.41 183.00 L1042.18 182.82 L1044.94 182.65 L1047.71 182.49 L1050.47 182.34 L1053.24 182.20 L1056.00 182.06 L1058.76 181.93 L1061.53 181.81 L1064.29 181.69 L1067.06 181.58 L1069.82 181.48 L1072.59 181.38 L1075.35 181.29 L1078.12 181.21 L1080.88 181.12 L1083.65 181.05 L1086.41 180.98 L1089.18 180.91 L1091.94 180.84 L1094.71 180.78 L1097.47 180.73 L1100.24 180.67 L1103.00 180.62 L1105.77 180.57 L1108.53 180.53 L1111.30 180.49 L1114.06 180.45 L1116.83 180.41 L1119.59 180.38 L1122.36 180.35 L1125.12 180.32 L1127.88 180.29 L1130.65 180.26 L1133.41 180.24 L1136.18 180.21 L1138.94 180.19 L1141.71 180.17 L1144.47 180.15 L1147.24 180.14 L1150.00 180.12 L1152.77 180.10 L1155.53 180.09 L1158.30 180.08 L1161.06 180.07 L1163.83 180.05 L1166.59 180.04 L1169.36 180.03 L1172.12 180.02 L1174.89 180.02 L1177.65 180.01 L1180.42 180.00 L1183.18 179.99 L1185.95 179.99 L1188.71 179.98 L1191.48 179.97 L1194.24 179.97 L1197.00 179.97 L1199.77 179.96 L1202.53 179.96 L1205.30 179.95 L1208.06 179.95 L1210.83 179.95 L1213.59 179.94 L1216.36 179.94 L1219.12 179.94 L1221.89 179.94 L1224.65 179.93 L1227.42 179.93 L1230.18 179.93 L1232.95 179.93 L1235.71 179.93 L1238.48 179.93 L1241.24 179.92 L1244.01 179.92 L1246.77 179.92 L1249.54 179.92 L1252.30 179.92 L1255.07 179.92 L1257.83 179.92 L1260.60 179.92 L1263.36 179.92" stroke="#0000ff" stroke-width="2"/>
</g>
<g font-size="32px">
<text transform="translate(166.08 833.70) rotate(0.05) scale(1 1.020)" text-anchor="middle">-4</text><text transform="translate(433.04 833.70) rotate(0.05) scale(1 1.020)" text-anchor="middle">-2</text><text transform="translate(700.00 833.70) rotate(0.05) scale(1 1.020)" text-anchor="middle">0</text><text transform="translate(966.96 833.70) rotate(0.05) scale(1 1.020)" text-anchor="middle">2</text><text transform="translate(1233.92 833.70) rotate(0.05) scale(1 1.020)" text-anchor="middle">4</text>
<text transform="translate(111.00 741.99) rotate(-90) scale(1 1.020)" text-anchor="middle">0.0</text><text transform="translate(111.00 629.63) rotate(-90) scale(1 1.020)" text-anchor="middle">0.2</text><text transform="translate(111.00 517.28) rotate(-90) scale(1 1.020)" text-anchor="middle">0.4</text><text transform="translate(111.00 404.92) rotate(-90) scale(1 1.020)" text-anchor="middle">0.6</text><text transform="translate(111.00 292.57) rotate(-90) scale(1 1.020)" text-anchor="middle">0.8</text><text transform="translate(111.00 180.21) rotate(-90) scale(1 1.020)" text-anchor="middle">1.0</text>
<text transform="translate(710.40 911.0) rotate(0.05)" text-anchor="middle">x</text>
<text transform="translate(34.2 461.30) rotate(-90) scale(1 1.02)" text-anchor="middle">Fn(x)</text>
</g>
<text x="710.40" y="92.5" text-anchor="middle" font-size="38.4px" font-weight="bold">Empirical CDF of correlated z scores</text>
</svg>
</body></html>
